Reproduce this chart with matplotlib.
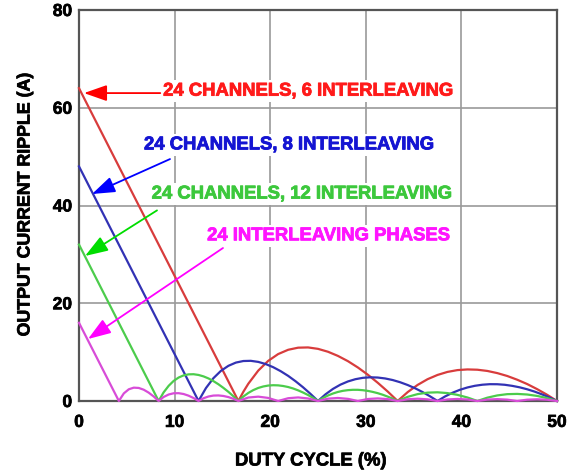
import matplotlib
matplotlib.use("Agg")
import matplotlib.pyplot as plt
import matplotlib.patheffects as pe

plt.rcParams['font.family'] = ['Liberation Sans', 'DejaVu Sans']

# ---- data (duty cycle %, ripple A) ----
red_x = [0, 16.67, 17.19, 17.71, 18.75, 19.79, 20.83, 21.88, 22.92, 23.96, 25.0,
         26.04, 27.08, 28.13, 29.17, 30.21, 31.25, 32.29, 33.33,
         34.38, 35.42, 36.46, 37.5, 38.54, 39.58, 40.63, 41.67, 42.71, 43.75,
         44.79, 45.83, 46.88, 47.92, 48.96, 50.0]
red_y = [64, 0, 1.88, 3.53, 6.22, 8.21, 9.6, 10.48, 10.91, 10.96, 10.67,
         10.08, 9.23, 8.15, 6.86, 5.38, 3.73, 1.94, 0,
         1.82, 3.29, 4.46, 5.33, 5.95, 6.32, 6.46, 6.4, 6.15, 5.71,
         5.12, 4.36, 3.47, 2.43, 1.28, 0]

blue_x = [0, 12.5, 13.28, 14.06, 14.84, 15.63, 16.41, 17.19, 17.97, 18.75, 19.53,
          20.31, 21.09, 21.88, 22.66, 23.44, 24.22, 25.0,
          25.78, 26.56, 27.34, 28.13, 28.91, 29.69, 30.47, 31.25, 32.03,
          32.81, 33.59, 34.38, 35.16, 35.94, 36.72, 37.5,
          38.28, 39.06, 39.84, 40.63, 41.41, 42.19, 42.97, 43.75, 44.53,
          45.31, 46.09, 46.88, 47.66, 48.44, 49.22, 50.0]
blue_y = [48, 0, 2.65, 4.67, 6.16, 7.2, 7.86, 8.18, 8.22, 8.0, 7.56,
          6.92, 6.11, 5.14, 4.03, 2.8, 1.45, 0,
          1.36, 2.47, 3.34, 4.0, 4.46, 4.74, 4.85, 4.8, 4.61,
          4.29, 3.84, 3.27, 2.60, 1.83, 0.96, 0,
          0.92, 1.68, 2.29, 2.77, 3.11, 3.33, 3.44, 3.43, 3.32,
          3.10, 2.80, 2.4, 1.92, 1.35, 0.71, 0]

green_x = [0, 8.33, 8.85, 9.38, 9.90, 10.42, 10.94, 11.46, 11.98, 12.5, 13.02,
           13.54, 14.06, 14.58, 15.10, 15.63, 16.15, 16.67,
           17.19, 17.71, 18.23, 18.75, 19.27, 19.79, 20.31, 20.83, 21.35,
           21.88, 22.40, 22.92, 23.44, 23.96, 24.48, 25.0,
           25.52, 26.04, 26.56, 27.08, 27.60, 28.13, 28.65, 29.17, 29.69,
           30.21, 30.73, 31.25, 31.77, 32.29, 32.81, 33.33,
           34.38, 35.42, 36.46, 37.5, 38.54, 39.58, 40.63, 41.67,
           42.71, 43.75, 44.79, 45.83, 46.88, 47.92, 48.96, 50.0]
green_y = [32, 0, 1.76, 3.11, 4.11, 4.8, 5.24, 5.45, 5.48, 5.33, 5.04,
           4.62, 4.07, 3.43, 2.69, 1.87, 0.97, 0,
           0.91, 1.65, 2.23, 2.67, 2.97, 3.16, 3.23, 3.2, 3.07,
           2.86, 2.56, 2.18, 1.73, 1.22, 0.64, 0,
           0.61, 1.12, 1.53, 1.85, 2.08, 2.22, 2.29, 2.29, 2.21,
           2.07, 1.86, 1.6, 1.28, 0.90, 0.48, 0,
           0.85, 1.41, 1.71, 1.78, 1.62, 1.26, 0.72, 0,
           0.68, 1.14, 1.40, 1.45, 1.33, 1.04, 0.60, 0]

magenta_x = [0, 4.17, 4.69, 5.21, 5.73, 6.25, 6.77, 7.29, 7.81, 8.33,
             8.85, 9.38, 9.90, 10.42, 10.94, 11.46, 11.98, 12.5,
             13.02, 13.54, 14.06, 14.58, 15.10, 15.63, 16.15, 16.67,
             17.71, 18.75, 19.79, 20.83, 21.88, 22.92, 23.96, 25.0,
             26.04, 27.08, 28.13, 29.17, 30.21, 31.25, 32.29, 33.33,
             34.38, 35.42, 36.46, 37.5, 38.54, 39.58, 40.63, 41.67,
             42.71, 43.75, 44.79, 45.83, 46.88, 47.92, 48.96, 50.0]
magenta_y = [16, 0, 1.56, 2.4, 2.73, 2.67, 2.31, 1.71, 0.93, 0,
             0.82, 1.33, 1.58, 1.6, 1.43, 1.09, 0.61, 0,
             0.56, 0.92, 1.11, 1.14, 1.03, 0.8, 0.45, 0,
             0.71, 0.89, 0.63, 0, 0.57, 0.73, 0.52, 0,
             0.48, 0.62, 0.44, 0, 0.41, 0.53, 0.39, 0,
             0.36, 0.47, 0.34, 0, 0.32, 0.42, 0.31, 0,
             0.29, 0.38, 0.28, 0, 0.27, 0.35, 0.26, 0]

x_ticks = [0, 10, 20, 30, 40, 50]
y_ticks = [0, 20, 40, 60, 80]

labels = ["24 CHANNELS, 6 INTERLEAVING", "24 CHANNELS, 8 INTERLEAVING",
          "24 CHANNELS, 12 INTERLEAVING", "24 INTERLEAVING PHASES"]

# ---- figure ----
fig = plt.figure(figsize=(5.76, 4.75), dpi=100)
ax = fig.add_axes([79/576, 74/475, 478/576, 391/475])

ax.set_xlim(0, 50)
ax.set_ylim(0, 80)
ax.set_xticks(x_ticks)
ax.set_yticks(y_ticks)
ax.grid(True, color='#9a9a9a', lw=1.2)
ax.set_axisbelow(True)
for s in ax.spines.values():
    s.set_color('#555555')
    s.set_linewidth(1.6)
ax.tick_params(length=0, labelsize=12.5)
ax.tick_params(axis='x', pad=10)
ax.tick_params(axis='y', pad=5)
for t in ax.get_xticklabels() + ax.get_yticklabels():
    t.set_fontweight('bold')
    t.set_path_effects([pe.withStroke(linewidth=0.5, foreground='black')])

ax.plot(red_x, red_y, color='#d83c3c', lw=1.6, clip_on=False, zorder=3)
ax.plot(blue_x, blue_y, color='#3232b4', lw=1.6, clip_on=False, zorder=3)
ax.plot(green_x, green_y, color='#4ccc4c', lw=1.6, clip_on=False, zorder=3)
ax.plot(magenta_x, magenta_y, color='#d84cd8', lw=1.6, clip_on=False, zorder=3)

text_cols = ['#ff1a1a', '#1414d2', '#3cc83c', '#ff14ff']
arrow_cols = ['#ff0000', '#0000ff', '#00dd00', '#ff00ff']
text_pos = [(8.8, 63.4), (6.8, 52.4), (7.6, 42.35), (13.4, 33.8)]
tips = [(0.52, 63.0), (1.36, 42.35), (0.63, 29.67), (0.94, 12.68)]
tails = [(8.5, 63.0), (9.52, 49.5), (8.16, 39.0), (15.06, 31.3)]

for lab, tc, ac, tp, tip, tail in zip(labels, text_cols, arrow_cols, text_pos, tips, tails):
    ax.text(tp[0], tp[1], lab, color=tc, fontsize=13.3, fontweight='bold',
            ha='left', va='center', zorder=4,
            path_effects=[pe.withStroke(linewidth=0.6, foreground=tc)],
            bbox=dict(facecolor='white', edgecolor='none', pad=2))
    ax.annotate('', xy=tip, xytext=tail, zorder=5,
                arrowprops=dict(arrowstyle='-|>,head_length=1.0,head_width=0.35',
                                mutation_scale=14, color=ac, lw=1.3,
                                shrinkA=0, shrinkB=0))

fig.text(311/576, 1 - 461/475, "DUTY CYCLE (%)", fontsize=13.3, fontweight='bold',
         ha='center', va='center',
         path_effects=[pe.withStroke(linewidth=0.5, foreground='black')])
fig.text(25/576, 1 - 205/475, "OUTPUT CURRENT RIPPLE (A)", fontsize=12.8,
         fontweight='bold', ha='center', va='center', rotation=90,
         path_effects=[pe.withStroke(linewidth=0.5, foreground='black')])

fig.savefig("out.png", dpi=100)
